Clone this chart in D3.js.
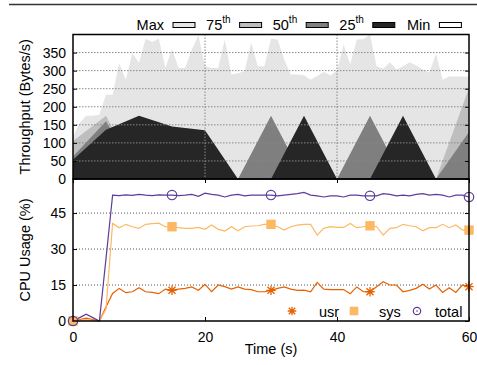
<!DOCTYPE html>
<html>
<head>
<meta charset="utf-8">
<script src="https://cdn.jsdelivr.net/npm/d3@7"></script>
<style>
body { margin: 0; background: #fff; }
svg text { font-family: "Liberation Sans", Arial, Helvetica, sans-serif; fill: #000; }
</style>
</head>
<body>
<div id="chart"></div>
<script>

/******** data ********/
// throughput, max sampled every second
var maxTime = d3.range(0, 61);
var maxValues = [117,155,175,175,178,233,233,321,275,349,
                 321,388,379,388,308,360,307,308,358,398,
                 312,307,307,386,289,293,298,377,312,312,
                 388,386,331,289,289,287,275,285,296,287,
                 300,372,317,386,387,400,312,305,323,303,
                 312,323,314,303,294,347,275,284,284,284,284];
// percentiles, every 5 seconds
var pctTime   = [0,5,10,15,20,25,30,35,40,45,50,55,60];
var p75Values = [105,175,0,0,0,0,0,0,0,0,0,0,252];
var p50Values = [62,160,0,0,0,0,175,0,0,175,0,0,130];
var p25Values = [53,136,175,145,135,0,0,175,0,0,175,0,0];
var minValues = [0,0,0,0,0,0,0,0,0,0,0,0,0];
var thrTicks = [0,50,100,150,200,250,300,350];

// cpu usage (%)
var cpuTime = d3.range(0, 61);
var usrValues = [0,0.6,1.2,0.6,0,5.8,11.5,13.6,11.8,12.2,
                 13.9,12.2,11.9,11.4,13.3,12.8,13.3,13.6,14.2,12.8,
                 15.3,12.2,15.0,14.3,13.3,14.2,13.3,13.1,12.2,12.2,
                 12.8,13.6,14.2,13.3,12.8,12.9,12.2,16.1,13.3,13.1,
                 13.1,13.1,11.4,14.2,12.2,12.2,14.3,16.4,15.0,15.0,
                 12.2,12.8,13.6,15.3,13.3,15.0,11.9,13.9,11.9,15.0,14.3];
var sysValues = [0,0.3,0.6,0.3,0,5,40.7,38.9,40.3,39.3,
                 38.6,40.3,40.6,40.8,39.3,39.3,38.9,38.6,38.6,39.0,
                 38.2,40.0,38.2,37.5,39.3,37.6,39.3,39.6,39.7,40.3,
                 40.3,39.3,37.9,39.3,40.0,40.3,40.3,35.8,38.6,39.3,
                 39.0,39.0,40.7,38.9,39.3,39.7,39.3,35.8,38.6,38.9,
                 40.3,39.7,39.3,37.6,38.9,38.9,40.3,38.9,40.0,37.9,37.9];
var totalValues = [0,1.4,2.8,1.4,0,26,52.5,52.3,52.6,52.4,
                   52.8,52.5,52.3,52.6,52.5,52.5,52.3,52.5,52.8,52.0,
                   53.3,52.8,52.5,51.7,52.5,52.8,52.2,52.5,52.5,52.5,
                   52.5,52.2,52.5,52.8,53.1,53.6,52.5,52.2,51.7,52.2,
                   52.2,51.7,52.5,52.5,52.2,52.2,52.2,53.1,52.8,52.2,
                   52.5,52.2,52.8,53.1,52.5,52.8,52.5,51.7,52.5,52.5,51.7];
var cpuTicks = [0,15,30,45];
var timeTicks = [0,20,40,60];
var markTimes = [0,15,30,45,60];

/******** layout ********/
var W = 477, H = 365;
var left = 73, right = 469;
var thrTop = 34.5, mid = 179, cpuBottom = 321;

var svg = d3.select("#chart").append("svg")
    .attr("width", W)
    .attr("height", H);

var x = d3.scaleLinear().domain([0, 60]).range([left, right]);
var yThr = d3.scaleLinear().domain([0, 400]).range([mid, thrTop]);
var yCpu = d3.scaleLinear().domain([0, 59.2]).range([cpuBottom, mid]);

// rule on top
svg.append("line")
    .attr("x1", 9).attr("x2", W).attr("y1", 4.5).attr("y2", 4.5)
    .attr("stroke", "#333").attr("stroke-width", 1.5);

/******** throughput panel ********/
var thrSeries = [
    {name: "Max", sup: "",   t: maxTime, v: maxValues, fill: "#e5e5e5"},
    {name: "75",  sup: "th", t: pctTime, v: p75Values, fill: "#bebebe"},
    {name: "50",  sup: "th", t: pctTime, v: p50Values, fill: "#7f7f7f"},
    {name: "25",  sup: "th", t: pctTime, v: p25Values, fill: "#262626"},
    {name: "Min", sup: "",   t: pctTime, v: minValues, fill: "#ffffff"}
];

var area = d3.area()
    .x(function (d) { return x(d[0]); })
    .y0(yThr(0))
    .y1(function (d) { return yThr(d[1]); });

svg.append("g").selectAll("path")
    .data(thrSeries)
    .enter().append("path")
    .attr("d", function (s) { return area(d3.zip(s.t, s.v)); })
    .attr("fill", function (s) { return s.fill; });

// grid
var gThr = svg.append("g").attr("class", "grid");
gThr.selectAll("line.h")
    .data(thrTicks.slice(1))
    .enter().append("line")
    .attr("x1", left).attr("x2", right)
    .attr("y1", function (d) { return yThr(d); })
    .attr("y2", function (d) { return yThr(d); });
gThr.selectAll("line.v")
    .data(timeTicks.slice(1, 3))
    .enter().append("line")
    .attr("x1", function (d) { return x(d); })
    .attr("x2", function (d) { return x(d); })
    .attr("y1", thrTop).attr("y2", mid);
gThr.selectAll("line")
    .attr("stroke", "#888").attr("stroke-width", 1)
    .attr("stroke-dasharray", "1.5,1.5");

svg.append("g")
    .attr("transform", "translate(" + left + ",0)")
    .call(d3.axisLeft(yThr).tickValues(thrTicks).tickSize(-4).tickPadding(7))
    .call(fixAxis);
svg.append("g")
    .attr("transform", "translate(" + right + ",0)")
    .call(d3.axisRight(yThr).tickValues(thrTicks).tickSize(-4).tickFormat(""))
    .call(fixAxis);

svg.append("text")
    .attr("transform", "translate(30," + ((thrTop + mid) / 2) + ") rotate(-90)")
    .attr("text-anchor", "middle")
    .style("font-size", "14.5px")
    .text("Throughput (Bytes/s)");

svg.append("rect")
    .attr("x", left).attr("y", thrTop)
    .attr("width", right - left).attr("height", mid - thrTop)
    .attr("fill", "none").attr("stroke", "#000").attr("stroke-width", 1.5);

// legend on top
var key = svg.append("g").selectAll("g")
    .data(thrSeries)
    .enter().append("g")
    .attr("transform", function (d, i) { return "translate(" + (173 + i * 66.6) + ",0)"; });
key.append("rect")
    .attr("x", 0).attr("y", 22.5).attr("width", 22).attr("height", 5)
    .attr("fill", function (d) { return d.fill; })
    .attr("stroke", "#000").attr("stroke-width", 1);
var keyText = key.append("text")
    .attr("x", -9).attr("y", 30)
    .attr("text-anchor", "end")
    .style("font-size", "14.5px");
keyText.append("tspan").text(function (d) { return d.name; });
keyText.append("tspan")
    .attr("dy", -7)
    .style("font-size", "10px")
    .text(function (d) { return d.sup; });

/******** cpu panel ********/
var gCpu = svg.append("g");
gCpu.selectAll("line")
    .data(cpuTicks.slice(1))
    .enter().append("line")
    .attr("x1", left).attr("x2", right)
    .attr("y1", function (d) { return yCpu(d); })
    .attr("y2", function (d) { return yCpu(d); })
    .attr("stroke", "#555").attr("stroke-width", 1)
    .attr("stroke-dasharray", "1,2");

svg.append("g")
    .attr("transform", "translate(" + left + ",0)")
    .call(d3.axisLeft(yCpu).tickValues(cpuTicks).tickSize(-4).tickPadding(7))
    .call(fixAxis);
svg.append("g")
    .attr("transform", "translate(" + right + ",0)")
    .call(d3.axisRight(yCpu).tickValues(cpuTicks).tickSize(-4).tickFormat(""))
    .call(fixAxis);
svg.append("g")
    .attr("transform", "translate(0," + cpuBottom + ")")
    .call(d3.axisBottom(x).tickValues(timeTicks).tickSize(-4).tickPadding(11))
    .call(fixAxis);
svg.append("g")
    .attr("transform", "translate(0," + mid + ")")
    .call(d3.axisTop(x).tickValues(timeTicks).tickSize(-4).tickFormat(""))
    .call(fixAxis);

var cpuSeries = [
    {name: "usr",   v: usrValues,   color: "#e66101", mark: "star",   keyX: 292, textX: 319},
    {name: "sys",   v: sysValues,   color: "#fdb863", mark: "square", keyX: 354, textX: 379},
    {name: "total", v: totalValues, color: "#5e3c99", mark: "circle", keyX: 417, textX: 435}
];

var line = d3.line()
    .x(function (d) { return x(d[0]); })
    .y(function (d) { return yCpu(d[1]); });

cpuSeries.forEach(function (s) {
    svg.append("path")
        .attr("d", line(d3.zip(cpuTime, s.v)))
        .attr("fill", "none")
        .attr("stroke", s.color)
        .attr("stroke-width", 1.2);
});

function drawMark(g, type, color, px, py, size) {
    if (type === "circle") {
        g.append("circle").attr("cx", px).attr("cy", py).attr("r", size * 0.5)
            .attr("fill", "none").attr("stroke", color).attr("stroke-width", 1.2);
    } else if (type === "square") {
        g.append("rect").attr("x", px - size / 2).attr("y", py - size / 2)
            .attr("width", size).attr("height", size).attr("fill", color);
    } else {
        var r = size / 2;
        var p = "M" + (px - r) + "," + py + "L" + (px + r) + "," + py +
            "M" + px + "," + (py - r) + "L" + px + "," + (py + r) +
            "M" + (px - r * 0.75) + "," + (py - r * 0.75) + "L" + (px + r * 0.75) + "," + (py + r * 0.75) +
            "M" + (px - r * 0.75) + "," + (py + r * 0.75) + "L" + (px + r * 0.75) + "," + (py - r * 0.75);
        g.append("path").attr("d", p).attr("stroke", color).attr("stroke-width", 1.3).attr("fill", "none");
    }
}

var gMarks = svg.append("g");
cpuSeries.forEach(function (s) {
    markTimes.forEach(function (t) {
        drawMark(gMarks, s.mark, s.color, x(t), yCpu(s.v[cpuTime.indexOf(t)]), 9.4);
    });
});

// legend bottom right
var gKey = svg.append("g");
cpuSeries.forEach(function (s) {
    drawMark(gKey, s.mark, s.color, s.keyX, 311, s.mark === "circle" ? 7.4 : 8.6);
    if (s.mark === "circle")
        gKey.append("circle").attr("cx", s.keyX).attr("cy", 311).attr("r", 0.8).attr("fill", s.color);
    gKey.append("text")
        .attr("x", s.textX).attr("y", 316.5)
        .style("font-size", "14.5px")
        .text(s.name);
});

svg.append("text")
    .attr("transform", "translate(30," + ((mid + cpuBottom) / 2) + ") rotate(-90)")
    .attr("text-anchor", "middle")
    .style("font-size", "14.5px")
    .text("CPU Usage (%)");

svg.append("text")
    .attr("x", (left + right) / 2).attr("y", 354)
    .attr("text-anchor", "middle")
    .style("font-size", "14.5px")
    .text("Time (s)");

svg.append("rect")
    .attr("x", left).attr("y", mid)
    .attr("width", right - left).attr("height", cpuBottom - mid)
    .attr("fill", "none").attr("stroke", "#000").attr("stroke-width", 1.5);

function fixAxis(g) {
    g.select(".domain").remove();
    g.selectAll(".tick line").attr("stroke", "#000").attr("stroke-width", 1);
    g.selectAll(".tick text")
        .style("font-family", "'Liberation Sans', Arial, sans-serif")
        .style("font-size", "14px");
}
</script>
</body>
</html>
